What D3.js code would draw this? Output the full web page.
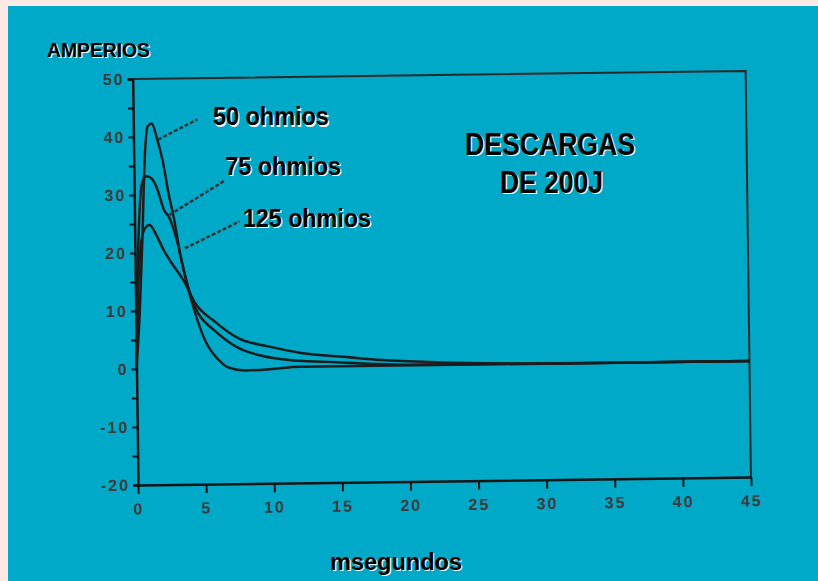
<!DOCTYPE html>
<html>
<head>
<meta charset="utf-8">
<script src="https://cdn.jsdelivr.net/npm/d3@7"></script>
<style>
  body { margin: 0; background: #fde9e4; }
  svg { display: block; }
</style>
</head>
<body>
<svg id="chart" width="818" height="581"></svg>
<script>
// descargas de 200J, corriente vs tiempo
const xTicks = [0, 5, 10, 15, 20, 25, 30, 35, 40, 45]
const yTicks = [50, 40, 30, 20, 10, 0, -10, -20]

const t50 = [0, 0.3, 0.55, 0.8, 1.05, 1.35, 1.75, 2.15, 2.5, 2.9, 3.3, 3.8, 4.3, 5.1, 6.0, 6.8, 8.0, 10, 12, 45]
const amp50 = [0, 10, 22, 36, 41.8, 42.3, 39.5, 35.5, 30.5, 25.8, 20, 14.5, 10, 4.6, 1.5, 0, -0.5, -0.3, 0, 0]

const t75 = [0, 0.2, 0.4, 0.65, 0.95, 1.3, 1.7, 2.15, 2.6, 3.1, 3.6, 4.3, 4.6, 5.8, 7.5, 9.2, 11.2, 14, 17, 20, 45]
const amp75 = [0, 18, 28, 32.5, 33.2, 32.8, 31, 27.5, 25.8, 22, 16.5, 10.8, 9.4, 6.4, 3.4, 2.0, 1.2, 0.8, 0.4, 0.1, 0]

const t125 = [0, 0.2, 0.4, 0.7, 1.1, 1.6, 2.1, 2.6, 3.6, 4.3, 5.8, 7.5, 9.7, 12.1, 15.4, 18, 22, 26, 30, 45]
const amp125 = [0, 14, 20.5, 24, 24.8, 23, 20.5, 18.5, 14.9, 11.5, 8, 5.1, 3.6, 2.4, 1.6, 1.0, 0.5, 0.2, 0, 0]

const seriesNames = ['50 ohmios', '75 ohmios', '125 ohmios']
// leader line: from point on curve to label start (ms, A)
const leaderFrom = [[1.8, 39.5], [2.57, 26.5], [3.67, 20.7]]
const leaderTo = [[4.7, 42.9], [6.6, 32.2], [7.7, 25.2]]
const labelAt = [[5.5, 42], [6.4, 33.4], [7.7, 24.5]]
const labelWidth = [116, 116, 128]

const svg = d3.select('#chart')
const ink = '#151515'

// teal panel
svg.append('rect')
  .attr('x', 8).attr('y', 6)
  .attr('width', 810).attr('height', 575)
  .attr('fill', '#01a9c8')

const x = d3.scaleLinear().domain([0, 45]).range([138, 751])
const y = d3.scaleLinear().domain([-20, 50]).range([485, 79])

// the scanned plot is slightly tilted
const plot = svg.append('g')
  .attr('transform', `rotate(-0.75, ${x(0)}, ${y(-20)})`)

// frame top + right
plot.append('path')
  .attr('d', `M${x(0)},${y(50)} H${x(45)} V${y(-20)}`)
  .attr('fill', 'none')
  .attr('stroke', '#2a2a2a')
  .attr('stroke-width', 2)

// y axis
const leftAxis = d3.axisLeft(y)
  .tickValues(d3.range(-20, 51, 5))
  .tickSize(5)
  .tickFormat(d => yTicks.includes(d) ? d : '')
const gy = plot.append('g')
  .attr('transform', `translate(${x(0)}, 0)`)
  .call(leftAxis)
gy.select('.domain').attr('stroke', ink).attr('stroke-width', 2.5)
gy.selectAll('.tick line').attr('stroke', ink).attr('stroke-width', 2)
gy.selectAll('.tick text')
  .attr('x', -8)
  .attr('fill', '#3c3c3c')
  .style('font', 'bold 16px "Liberation Sans", Arial, sans-serif')
  .style('letter-spacing', '2px')

// x axis
const bottomAxis = d3.axisBottom(x)
  .tickValues(xTicks)
  .tickSize(9)
  .tickSizeOuter(0)
const gx = plot.append('g')
  .attr('transform', `translate(0, ${y(-20)})`)
  .call(bottomAxis)
gx.select('.domain').attr('stroke', ink).attr('stroke-width', 2.5)
gx.selectAll('.tick line').attr('stroke', ink).attr('stroke-width', 2)
gx.selectAll('.tick text')
  .attr('y', 18)
  .attr('fill', '#3c3c3c')
  .style('font', 'bold 16px "Liberation Sans", Arial, sans-serif')
  .style('letter-spacing', '2px')

// curves
const line = d3.line()
  .x(d => x(d[0]))
  .y(d => y(d[1]))
  .curve(d3.curveMonotoneX)

const curves = [
  d3.zip(t50, amp50),
  d3.zip(t75, amp75),
  d3.zip(t125, amp125)
]
plot.selectAll('path.curve')
  .data(curves)
  .enter()
  .append('path')
  .attr('class', 'curve')
  .attr('d', line)
  .attr('fill', 'none')
  .attr('stroke', '#1c1c1c')
  .attr('stroke-width', 2.5)

// leader lines
plot.selectAll('line.leader')
  .data(seriesNames)
  .enter()
  .append('line')
  .attr('class', 'leader')
  .attr('x1', (d, i) => x(leaderFrom[i][0]))
  .attr('y1', (d, i) => y(leaderFrom[i][1]))
  .attr('x2', (d, i) => x(leaderTo[i][0]))
  .attr('y2', (d, i) => y(leaderTo[i][1]))
  .attr('stroke', '#333')
  .attr('stroke-width', 2.5)
  .attr('stroke-dasharray', '4 2')

// black text with a light drop edge like the original
function shadowText(px, py, txt, size, width, anchor) {
  const g = svg.append('g')
  ;[['#f4f4f4', 1.2], [ '#000', 0]].forEach(([fill, off]) => {
    const t = g.append('text')
      .attr('x', px + off)
      .attr('y', py + off)
      .attr('fill', fill)
      .attr('text-anchor', anchor || 'start')
      .style('font', `bold ${size}px "Liberation Sans", Arial, sans-serif`)
      .text(txt)
    if (width) t.attr('textLength', width).attr('lengthAdjust', 'spacingAndGlyphs')
  })
}

seriesNames.forEach((name, i) => {
  shadowText(x(labelAt[i][0]), y(labelAt[i][1]), name, 25, labelWidth[i])
})

shadowText(465, 155, 'DESCARGAS', 31, 170)
shadowText(500, 193, 'DE 200J', 31, 103)
shadowText(47, 57, 'AMPERIOS', 20, 103)
shadowText(330, 570, 'msegundos', 23, 132)
</script>
</body>
</html>
